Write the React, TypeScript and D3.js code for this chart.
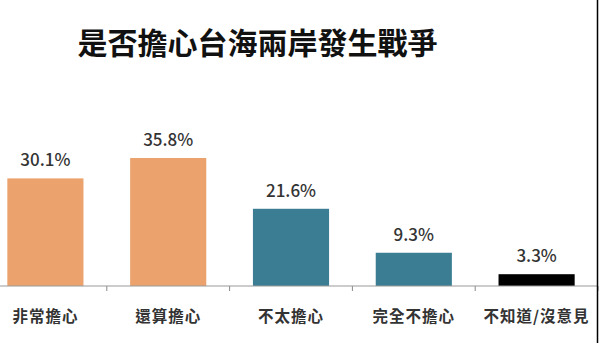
import React from "react";
import * as d3 from "d3";

const categories = ["非常擔心", "還算擔心", "不太擔心", "完全不擔心", "不知道/沒意見"];
const values = [30.1, 35.8, 21.6, 9.3, 3.3];
const colors = ["#EBA26D", "#EBA26D", "#3B7E94", "#3B7E94", "#000000"];
const title = "是否擔心台海兩岸發生戰爭";

const W = 599;
const H = 343;

export default function App() {
  const x = d3
    .scaleBand<string>()
    .domain(categories)
    .range([-16, 598])
    .paddingInner(0.38)
    .paddingOuter(0.19);
  const y = d3.scaleLinear().domain([0, 40]).range([286, 143]);
  const step = x.step();
  const font = "'Noto Sans CJK TC', 'Noto Sans', sans-serif";

  return (
    <svg
      width={W}
      height={H}
      style={{ position: "absolute", left: 0, top: 0, display: "block", background: "#fff" }}
    >
      <text
        x={257.5}
        y={54}
        textAnchor="middle"
        fontFamily={font}
        fontWeight={700}
        fontSize={30}
        fill="#111"
      >
        {title}
      </text>
      {categories.map((c, i) => {
        const bx = x(c)!;
        const cx = bx + x.bandwidth() / 2;
        return (
          <g key={c}>
            <rect
              x={bx}
              y={y(values[i])}
              width={x.bandwidth()}
              height={y(0) - y(values[i])}
              fill={colors[i]}
            />
            <text
              x={cx}
              y={y(values[i]) - 12}
              textAnchor="middle"
              fontFamily={font}
              fontWeight={500}
              fontSize={17}
              fill="#333"
            >
              {values[i].toFixed(1)}%
            </text>
            <text
              x={cx}
              y={322}
              textAnchor="middle"
              fontFamily={font}
              fontWeight={700}
              fontSize={15.5}
              fill="#333"
              letterSpacing={1}
            >
              {c}
            </text>
            <line
              x1={bx + x.bandwidth() + (step - x.bandwidth()) / 2}
              x2={bx + x.bandwidth() + (step - x.bandwidth()) / 2}
              y1={y(0)}
              y2={y(0) + 5}
              stroke="#888"
              strokeWidth={1}
            />
          </g>
        );
      })}
      <line x1={0} x2={597} y1={y(0)} y2={y(0)} stroke="#999" strokeWidth={1.2} />
      <line x1={597.5} x2={597.5} y1={0} y2={H} stroke="#000" strokeWidth={1.5} />
    </svg>
  );
}
